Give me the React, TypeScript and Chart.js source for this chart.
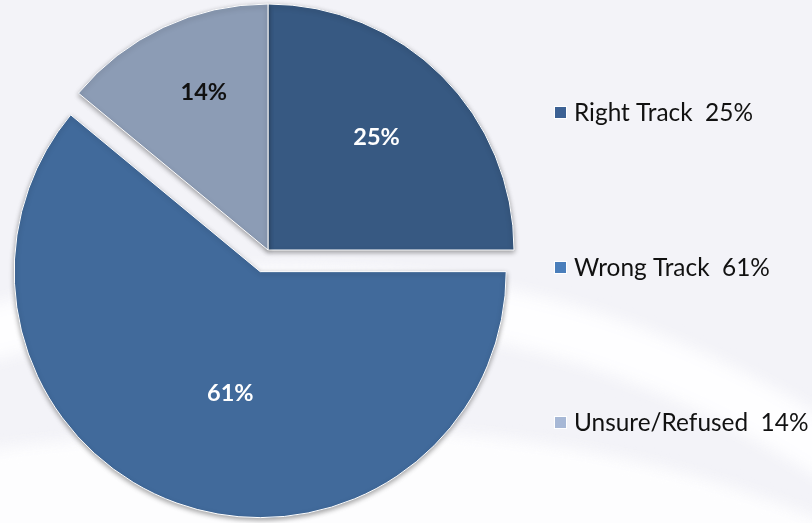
import React, { useEffect, useRef } from "react";
import { Chart, registerables } from "chart.js";

Chart.register(...registerables);

// ---- data ----
const categories = ["Right Track", "Wrong Track", "Unsure/Refused"];
const values = [25, 61, 14];

// ---- styles ----
const sliceColors = ["#375982", "#416a9b", "#8c9cb5"];
const legendColors = ["#3c6194", "#4a7ebb", "#a7b8d6"];
const labelColors = ["#ffffff", "#ffffff", "#111111"];
const explodePx = [0, 23, 0];
const labelRadius = [0.635, 0.51, 0.69];
const labelShiftDeg = [-1, -6, 3];

const W = 812;
const H = 523;
const FONT = "Lato, 'Open Sans', sans-serif";

const backgroundPlugin = {
  id: "bg",
  beforeDraw(chart: any) {
    const ctx = chart.ctx as CanvasRenderingContext2D;
    ctx.save();
    ctx.fillStyle = "#f3f3f8";
    ctx.fillRect(0, 0, W, H);
    ctx.filter = "blur(8px)";
    ctx.strokeStyle = "rgba(254,254,255,0.95)";
    ctx.lineWidth = 55;
    ctx.beginPath();
    ctx.moveTo(-30, 338);
    ctx.bezierCurveTo(250, 262, 560, 272, 840, 460);
    ctx.stroke();
    ctx.fillStyle = "#fdfdfe";
    ctx.beginPath();
    ctx.moveTo(-30, 452);
    ctx.bezierCurveTo(250, 415, 560, 405, 840, 528);
    ctx.lineTo(840, 560);
    ctx.lineTo(-30, 560);
    ctx.closePath();
    ctx.fill();
    ctx.restore();
  },
};

function midAngle(arc: any) {
  const p = arc.getProps(["startAngle", "endAngle"], true);
  return (p.startAngle + p.endAngle) / 2;
}

const piePlugin = {
  id: "pieExtras",
  beforeDatasetsDraw(chart: any) {
    const ctx = chart.ctx as CanvasRenderingContext2D;
    const meta = chart.getDatasetMeta(0);
    meta.data.forEach((arc: any, i: number) => {
      if (arc.__exploded) return;
      const orig = arc.draw.bind(arc);
      arc.draw = (c: CanvasRenderingContext2D) => {
        const m = midAngle(arc);
        c.save();
        c.translate(Math.cos(m) * explodePx[i], Math.sin(m) * explodePx[i]);
        orig(c);
        c.restore();
      };
      arc.__exploded = true;
    });
    ctx.save();
    ctx.shadowColor = "rgba(0,0,0,0.35)";
    ctx.shadowBlur = 5;
    ctx.shadowOffsetX = 0;
    ctx.shadowOffsetY = 2;
  },
  afterDatasetsDraw(chart: any) {
    const ctx = chart.ctx as CanvasRenderingContext2D;
    ctx.restore();
    const meta = chart.getDatasetMeta(0);
    ctx.save();
    ctx.font = `bold 23.5px ${FONT}`;
    ctx.textAlign = "center";
    ctx.textBaseline = "middle";
    meta.data.forEach((arc: any, i: number) => {
      const p = arc.getProps(["x", "y", "outerRadius"], true);
      const mid = midAngle(arc);
      const cx = p.x + Math.cos(mid) * explodePx[i];
      const cy = p.y + Math.sin(mid) * explodePx[i];
      const a = mid + (labelShiftDeg[i] * Math.PI) / 180;
      const r = p.outerRadius * labelRadius[i];
      ctx.fillStyle = labelColors[i];
      ctx.fillText(`${values[i]}%`, cx + Math.cos(a) * r, cy + Math.sin(a) * r);
    });
    ctx.restore();
  },
  afterDraw(chart: any) {
    const ctx = chart.ctx as CanvasRenderingContext2D;
    ctx.save();
    ctx.font = `24.4px ${FONT}`;
    ctx.textAlign = "left";
    ctx.textBaseline = "middle";
    const x0 = 555;
    const y0 = 112.5;
    const gap = 155;
    categories.forEach((c, i) => {
      const yc = y0 + i * gap;
      ctx.fillStyle = "#ffffff";
      ctx.fillRect(x0 - 1, yc - 6.5, 13, 13);
      ctx.fillStyle = legendColors[i];
      ctx.fillRect(x0, yc - 5.5, 11, 11);
      ctx.fillStyle = "#111111";
      ctx.fillText(`${c}  ${values[i]}%`, x0 + 19, yc + 1);
    });
    ctx.restore();
  },
};

export default function App() {
  const ref = useRef<HTMLCanvasElement | null>(null);
  useEffect(() => {
    if (!ref.current) return;
    const chart = new Chart(ref.current, {
      type: "pie",
      data: {
        labels: categories,
        datasets: [
          {
            data: values,
            backgroundColor: sliceColors,
            borderColor: "#ffffff",
            borderWidth: 1,
            radius: 246,
          } as any,
        ],
      },
      options: {
        responsive: false,
        animation: false,
        devicePixelRatio: 1,
        layout: { padding: { left: 0, top: 0, right: W - 536, bottom: H - 500 } },
        plugins: {
          legend: { display: false },
          tooltip: { enabled: false },
          title: { display: false },
        },
      },
      plugins: [backgroundPlugin, piePlugin],
    });
    return () => chart.destroy();
  }, []);
  return (
    <div style={{ position: "fixed", left: 0, top: 0, width: W, height: H }}>
      <canvas ref={ref} width={W} height={H} style={{ display: "block" }} />
    </div>
  );
}
